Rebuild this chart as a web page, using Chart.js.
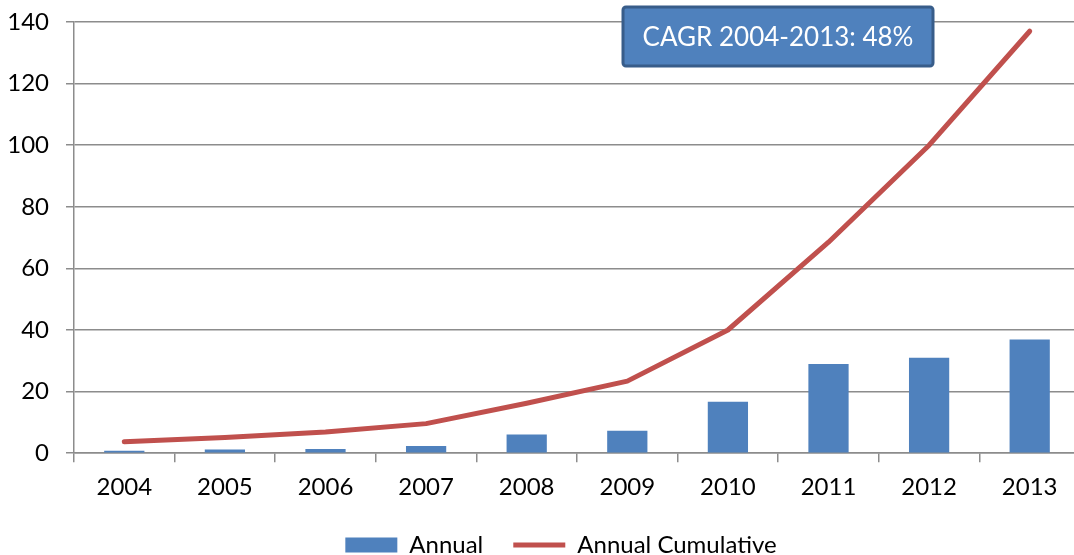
<!DOCTYPE html>
<html><head><meta charset="utf-8">
<script src="https://cdn.jsdelivr.net/npm/chart.js@4"></script>
<style>
html,body{margin:0;padding:0;overflow:hidden;background:#fff;width:1074px;height:555px}
#wrap{position:absolute;left:0;top:0;width:1082px;height:555px}
</style></head><body>
<div id="wrap"><canvas id="c" width="1082" height="555"></canvas></div>
<script>
const years = ['2004','2005','2006','2007','2008','2009','2010','2011','2012','2013'];
const annual = [0.8, 1.2, 1.4, 2.3, 6.1, 7.3, 16.7, 29.0, 31.0, 36.9];
const annualCumulative = [3.7, 5.1, 6.9, 9.6, 16.2, 23.4, 40.0, 68.5, 100.0, 137.0];
const yTicks = [0, 20, 40, 60, 80, 100, 120, 140];
const cagrText = 'CAGR 2004-2013: 48%';

const FONT = 'Lato, "Open Sans", sans-serif';
const gridColor = '#8c8c8c';

const cagrBox = {
  id: 'cagrBox',
  afterDraw(chart) {
    const ctx = chart.ctx;
    const x = 623, y = 7, w = 310, h = 59;
    ctx.save();
    ctx.beginPath();
    if (ctx.roundRect) ctx.roundRect(x, y, w, h, 3); else ctx.rect(x, y, w, h);
    ctx.fillStyle = '#4F81BD';
    ctx.fill();
    ctx.lineWidth = 3;
    ctx.strokeStyle = '#385D8A';
    ctx.stroke();
    ctx.fillStyle = '#ffffff';
    ctx.font = '26px ' + FONT;
    ctx.textAlign = 'center';
    ctx.textBaseline = 'middle';
    ctx.fillText(cagrText, x + w / 2, y + h / 2 + 1);
    ctx.restore();
  }
};

const legendShift = {
  id: 'legendShift',
  afterLayout(chart) {
    const dx = 21, dy = -10;
    if (chart.legend) {
      chart.legend.left += dx; chart.legend.right += dx;
      chart.legend.top += dy; chart.legend.bottom += dy;
    }
  }
};

new Chart(document.getElementById('c'), {
  data: {
    labels: years,
    datasets: [
      {
        type: 'line',
        label: 'Annual Cumulative',
        data: annualCumulative,
        borderColor: '#C0504D',
        backgroundColor: '#C0504D',
        borderWidth: 5,
        borderCapStyle: 'round',
        borderJoinStyle: 'round',
        pointRadius: 0,
        pointStyle: 'line',
        tension: 0,
        fill: false
      },
      {
        type: 'bar',
        label: 'Annual',
        data: annual,
        backgroundColor: '#4F81BD',
        borderWidth: 0,
        pointStyle: 'rect',
        barPercentage: 0.4,
        categoryPercentage: 1.0
      }
    ]
  },
  options: {
    responsive: false,
    animation: false,
    devicePixelRatio: 1,
    layout: { padding: { left: 0, top: 22, right: 2, bottom: -22 } },
    plugins: {
      tooltip: { enabled: false },
      legend: {
        position: 'bottom',
        reverse: true,
        labels: {
          usePointStyle: true,
          pointStyleWidth: 52,
          boxHeight: 15,
          padding: 30,
          color: '#000',
          font: { family: FONT, size: 24 }
        }
      }
    },
    scales: {
      x: {
        offset: true,
        grid: { offset: true, drawOnChartArea: false, drawTicks: true, tickLength: 9, color: gridColor, lineWidth: 1.5 },
        border: { display: true, color: gridColor, width: 1.5 },
        ticks: { color: '#000', font: { family: FONT, size: 24 }, padding: 11, maxRotation: 0 }
      },
      y: {
        min: 0, max: 140,
        afterBuildTicks(axis) { axis.ticks = yTicks.map(v => ({ value: v })); },
        afterFit(axis) { axis.width = 74; axis.paddingTop = 0; axis.paddingBottom = 0; },
        grid: { color: gridColor, lineWidth: 1.5, tickLength: 8 },
        border: { display: true, color: gridColor, width: 1.5 },
        ticks: { color: '#000', font: { family: FONT, size: 24 }, padding: 17 }
      }
    }
  },
  plugins: [cagrBox, legendShift]
});
</script>
</body></html>
